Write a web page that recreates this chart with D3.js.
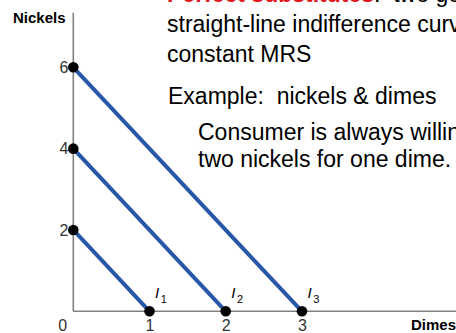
<!DOCTYPE html>
<html>
<head>
<meta charset="utf-8">
<script src="https://cdn.jsdelivr.net/npm/d3@7"></script>
<style>
  html, body { margin: 0; padding: 0; background: #fff; }
  svg { display: block; font-family: "Liberation Sans", Arial, sans-serif; }
  text { white-space: pre; }
</style>
</head>
<body>
<svg id="chart" width="456" height="333"></svg>
<script>
// Indifference curves for perfect substitutes: nickels vs dimes
const curveNames = ["1", "2", "3"];
const nickelIntercepts = [2, 4, 6];   // nickels held when no dimes
const dimeIntercepts = [1, 2, 3];     // dimes held when no nickels
const xTickValues = [0, 1, 2, 3];
const yTickValues = [2, 4, 6];

const svg = d3.select("#chart");

const x = d3.scaleLinear().domain([0, 3]).range([73.3, 302]);
const y = d3.scaleLinear().domain([0, 6]).range([311.3, 67.3]);

// Explanatory text block
const text = svg.append("g").attr("font-size", 23).attr("fill", "#000");
const l1 = text.append("text").attr("x", 167).attr("y", 1.7);
l1.append("tspan").attr("fill", "#e3161e").attr("font-weight", "bold").text("Perfect substitutes");
l1.append("tspan").text(":  two goods with");
text.append("text").attr("x", 167).attr("y", 31.7).text("straight-line indifference curves;");
text.append("text").attr("x", 167).attr("y", 61.7).text("constant MRS");
text.append("text").attr("x", 168).attr("y", 104).text("Example:  nickels & dimes");
text.append("text").attr("x", 198).attr("y", 140).text("Consumer is always willing to trade");
text.append("text").attr("x", 198).attr("y", 167).text("two nickels for one dime.");

// Axis lines
svg.append("line")
  .attr("x1", x(0)).attr("x2", x(0))
  .attr("y1", 12.7).attr("y2", y(0))
  .attr("stroke", "#808080").attr("stroke-width", 1.6);
svg.append("line")
  .attr("x1", x(0)).attr("x2", 456)
  .attr("y1", y(0)).attr("y2", y(0))
  .attr("stroke", "#808080").attr("stroke-width", 1.6);

// Tick labels
const fmt = d3.format("d");
const xAxis = svg.append("g")
  .attr("transform", `translate(0,${y(0)})`)
  .call(d3.axisBottom(x).tickValues(xTickValues).tickFormat(fmt).tickSize(0).tickPadding(8));
xAxis.select(".domain").remove();
xAxis.selectAll("text")
  .attr("font-size", 16).attr("font-family", "Liberation Sans, Arial, sans-serif")
  .attr("fill", "#333")
  .attr("dx", d => d === 0 ? -11 : 0);

const yAxis = svg.append("g")
  .attr("transform", `translate(${x(0)},0)`)
  .call(d3.axisLeft(y).tickValues(yTickValues).tickFormat(fmt).tickSize(0).tickPadding(5));
yAxis.select(".domain").remove();
yAxis.selectAll("text")
  .attr("font-size", 16).attr("font-family", "Liberation Sans, Arial, sans-serif")
  .attr("fill", "#333");

// Axis titles
svg.append("text").attr("x", 13).attr("y", 22.7)
  .attr("font-size", 15).attr("font-weight", "bold").text("Nickels");
svg.append("text").attr("x", 456).attr("y", 330).attr("text-anchor", "end")
  .attr("font-size", 15).attr("font-weight", "bold").text("Dimes");

// Indifference lines
const curves = curveNames.map((n, i) => ({ name: n, n0: nickelIntercepts[i], d0: dimeIntercepts[i] }));

svg.append("g").selectAll("line").data(curves).join("line")
  .attr("x1", x(0)).attr("y1", d => y(d.n0))
  .attr("x2", d => x(d.d0)).attr("y2", y(0))
  .attr("stroke", "#2857a8").attr("stroke-width", 4);

// End points
const pts = curves.flatMap(d => [[0, d.n0], [d.d0, 0]]);
svg.append("g").selectAll("circle").data(pts).join("circle")
  .attr("cx", d => x(d[0])).attr("cy", d => y(d[1]))
  .attr("r", 5.3).attr("fill", "#000");

// Curve labels I1, I2, I3
const lab = svg.append("g").selectAll("text").data(curves).join("text")
  .attr("x", d => x(d.d0) + 5.5).attr("y", 298)
  .attr("font-size", 15).attr("fill", "#000");
lab.append("tspan").attr("font-style", "italic").text("I");
lab.append("tspan").attr("font-size", 11).attr("dx", 1.5).attr("dy", 4.5).text(d => d.name);
</script>
</body>
</html>
